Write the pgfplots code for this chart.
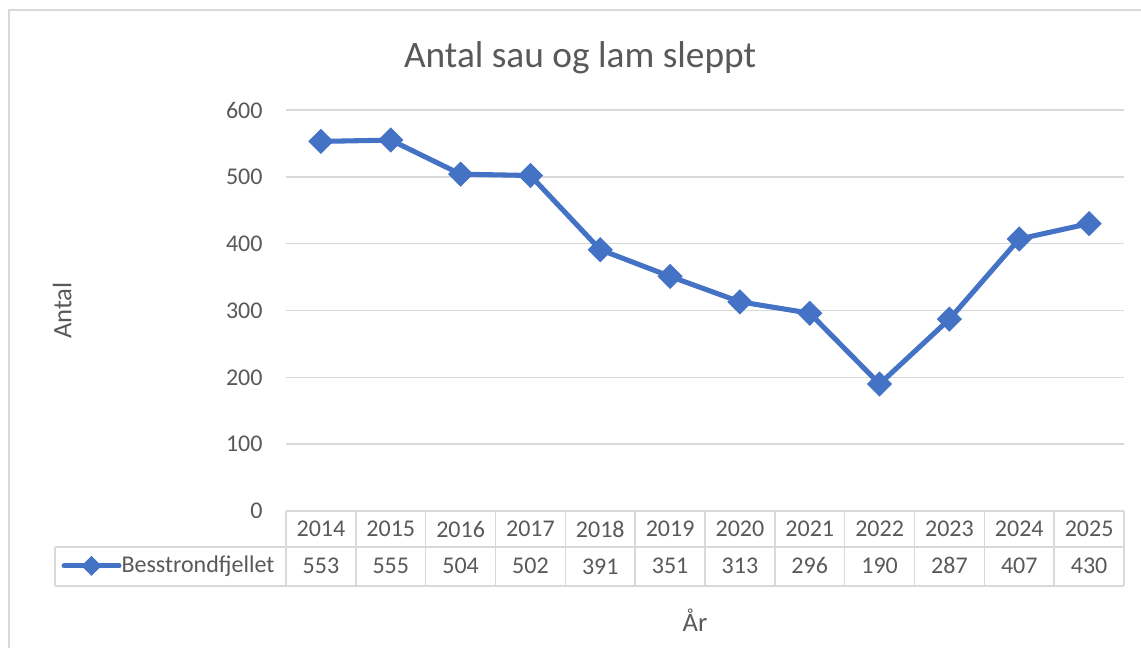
\documentclass[border=0pt]{standalone}
\usepackage{fontspec}
\setmainfont{Carlito}
\usepackage{pgfplots}
\usepackage{pgfplotstable}
\pgfplotsset{compat=1.18}
\definecolor{txt}{HTML}{595959}
\definecolor{grd}{HTML}{D9D9D9}
\definecolor{ser}{HTML}{4472C4}

\pgfplotstableread{
idx year val
0 2014 553
1 2015 555
2 2016 504
3 2017 502
4 2018 391
5 2019 351
6 2020 313
7 2021 296
8 2022 190
9 2023 287
10 2024 407
11 2025 430
}\datatable

\begin{document}
\begin{tikzpicture}
\path[use as bounding box] (0,0) rectangle (427.875pt,243pt);
\draw[grd, line width=0.5pt] (3.375pt,0) -- (3.375pt,239.25pt) -- (427.875pt,239.25pt);
\begin{axis}[
  at={(107.25pt,51.375pt)}, anchor=south west,
  scale only axis, width=314.25pt, height=150.375pt,
  xmin=-0.5, xmax=11.5, ymin=0, ymax=600,
  clip=false,
  ytick={0,100,...,600},
  xtick=data,
  axis line style={draw=none},
  major tick length=0pt,
  tick style={draw=none},
  ymajorgrids,
  major grid style={grd, line width=0.5pt},
  /pgf/number format/assume math mode=true,
  yticklabel style={anchor=east, inner sep=0pt, xshift=-8.6pt, font=\fontsize{9}{11}\selectfont, text=txt},
  xticklabel={\pgfplotstablegetelem{\ticknum}{year}\of\datatable\pgfplotsretval\\\pgfplotstablegetelem{\ticknum}{val}\of\datatable\pgfplotsretval},
  xticklabel style={align=center, anchor=north, inner sep=0pt, yshift=-3.5pt, font=\fontsize{9}{13.8}\selectfont, text=txt},
  every axis title shift=0pt,
  title={Antal sau og lam sleppt},
  title style={at={(axis description cs:0.351,1.107)}, anchor=base, yshift=0pt, font=\fontsize{14}{17}\selectfont, text=txt},
  ylabel={Antal},
  ylabel style={at={(axis description cs:-0.267,0.5)}, anchor=center, font=\fontsize{10}{12}\selectfont, text=txt},
  xlabel={År},
  xlabel style={at={(axis description cs:0.488,-0.272)}, anchor=center, font=\fontsize{10}{12}\selectfont, text=txt},
  legend style={at={(axis description cs:-0.2685,-0.137)}, anchor=west, draw=none, fill=none, inner sep=0pt,
    font=\fontsize{9}{11}\selectfont, text=txt, nodes={inner sep=0pt}},
  legend image code/.code={\draw[mark repeat=2,mark phase=2,line cap=round,#1,mark size=1.7pt] plot coordinates {(0pt,0pt)(10.3pt,0pt)(20.6pt,0pt)};\hspace{1.9pt}},
]
\addplot[ser, line width=1.9pt, mark=square*, mark size=2.4pt, mark options={rotate=45, solid, fill=ser}] table[x=idx,y=val]{\datatable};
\addlegendentry{Besstrondfjellet}
\end{axis}
\begin{scope}[grd, line width=0.6pt]
\draw (107.25pt,51.375pt) -- (421.5pt,51.375pt);
\draw (20.625pt,37.875pt) -- (421.5pt,37.875pt);
\draw (20.625pt,23.25pt) -- (421.5pt,23.25pt);
\draw (20.625pt,23.25pt) -- (20.625pt,37.875pt);
\foreach \k in {0,...,12} {\draw (107.25pt+\k*26.1875pt,23.25pt) -- (107.25pt+\k*26.1875pt,51.375pt);}
\end{scope}
\end{tikzpicture}
\end{document}
